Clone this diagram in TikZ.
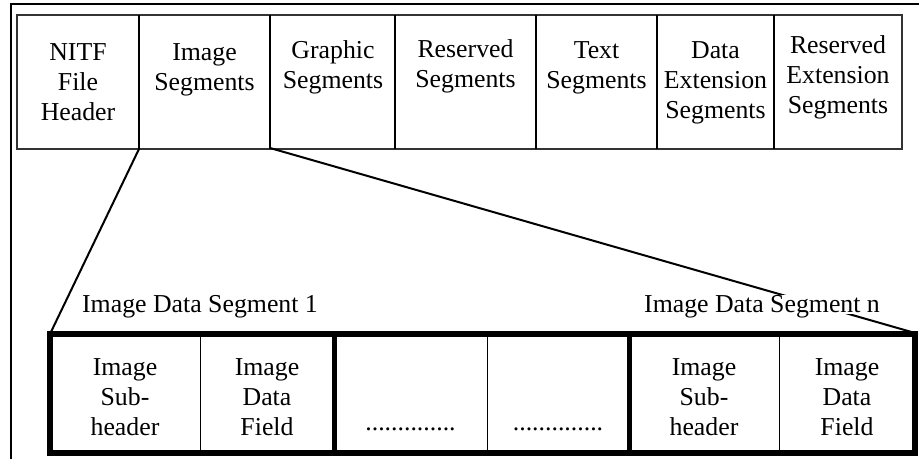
\documentclass[tikz,border=0pt]{standalone}
\usepackage{fontspec}
\setmainfont{Liberation Serif}
\usepackage{tikz}

\tikzset{
  celltext/.style={align=center, anchor=north, inner sep=0pt},
  seglabel/.style={fill=white, text depth=0pt, inner sep=0.5pt, anchor=base},
  thinrule/.style={line width=0.5pt},
  thickrule/.style={line width=2.8pt},
  link/.style={line width=1pt}
}

\begin{document}
\begin{tikzpicture}[x=0.5pt,y=-0.5pt,font=\fontsize{12.9}{15}\selectfont]
  \useasboundingbox (0,0) rectangle (919,459);

  % outer frame
  \draw[line width=1pt] (11,459) -- (11,4) -- (919,4);

  % NITF file layout
  \draw[line width=0.75pt, black!80] (17,15) rectangle (902,149);
  \foreach \x in {139,270,395,536,657,774}
    \draw[line width=1.2pt] (\x,15) -- (\x,149);

  \node[celltext] (hdr) at (78,43) {NITF\\File\\Header};
  \node[celltext] (img) at (204.5,43) {Image\\Segments};
  \node[celltext] (gra) at (333,40.5) {Graphic\\Segments};
  \node[celltext] (res) at (465.5,39) {Reserved\\Segments};
  \node[celltext] (txt) at (596.5,41) {Text\\Segments};
  \node[celltext] (des) at (715.5,41) {Data\\Extension\\Segments};
  \node[celltext] (rex) at (838,35.5) {Reserved\\Extension\\Segments};

 \coordinate (imgSW) at (139,149);
 \coordinate (imgSE) at (270,148);

  % image data segments
  \draw[thickrule] (50,334) rectangle (915,453);
  \foreach \x in {200,487,779}
    \draw[thinrule] (\x,334) -- (\x,453);
  \foreach \x in {334.5,629.5}
    \draw[thickrule] (\x,334) -- (\x,453);

 \coordinate (segNW) at (50,334);
 \coordinate (segNE) at (915,333);

  \draw[link] (imgSW) -- (segNW);
  \draw[link] (imgSE) -- (segNE);

  \node[seglabel] (seg1) at (200,313) {Image Data Segment 1};
  \node[seglabel] (segn) at (762,313) {Image Data Segment n};

  \node[celltext] (sub1) at (125,358) {Image\\Sub-\\header};
  \node[celltext] (fld1) at (267,358) {Image\\Data\\Field};
  \node[anchor=base, inner sep=0pt] (dot1) at (410.5,430) {..............};
  \node[anchor=base, inner sep=0pt] (dot2) at (558,430) {..............};
  \node[celltext] (subn) at (704,358) {Image\\Sub-\\header};
  \node[celltext] (fldn) at (847,358) {Image\\Data\\Field};

\end{tikzpicture}
\end{document}
